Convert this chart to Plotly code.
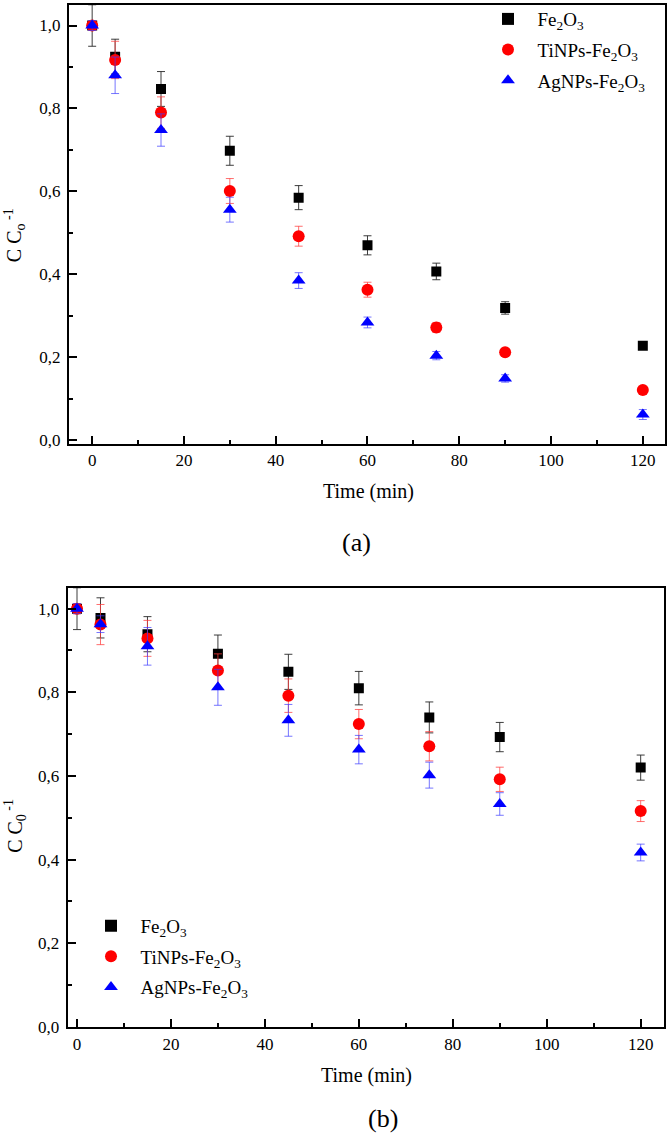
import plotly.graph_objects as go

# ---------------- data ----------------
time_a = [0, 5, 15, 30, 45, 60, 75, 90, 120]
fe2o3_a = [1.0, 0.925, 0.847, 0.698, 0.585, 0.470, 0.407, 0.319, 0.228]
fe2o3_a_err = [0.05, 0.042, 0.042, 0.035, 0.029, 0.023, 0.02, 0.015, 0.006]
ti_a = [1.0, 0.917, 0.790, 0.601, 0.492, 0.363, 0.272, 0.212, 0.121]
ti_a_err = [0.012, 0.045, 0.038, 0.03, 0.024, 0.018, 0.012, 0.008, 0.005]
ag_a = [1.0, 0.880, 0.748, 0.556, 0.385, 0.284, 0.204, 0.149, 0.062]
ag_a_err = [0.012, 0.044, 0.039, 0.03, 0.019, 0.013, 0.01, 0.009, 0.012]

time_b = [0, 5, 15, 30, 45, 60, 75, 90, 120]
fe2o3_b = [1.0, 0.978, 0.939, 0.892, 0.849, 0.810, 0.740, 0.693, 0.620]
fe2o3_b_err = [0.05, 0.048, 0.042, 0.045, 0.042, 0.04, 0.037, 0.035, 0.03]
ti_b = [1.0, 0.962, 0.929, 0.852, 0.792, 0.724, 0.671, 0.592, 0.516]
ti_b_err = [0.012, 0.048, 0.043, 0.04, 0.04, 0.035, 0.035, 0.029, 0.025]
ag_b = [1.0, 0.963, 0.910, 0.812, 0.733, 0.663, 0.602, 0.533, 0.417]
ag_b_err = [0.012, 0.02, 0.045, 0.043, 0.038, 0.034, 0.031, 0.027, 0.02]

series_names = ["Fe<sub>2</sub>O<sub>3</sub>",
                "TiNPs-Fe<sub>2</sub>O<sub>3</sub>",
                "AgNPs-Fe<sub>2</sub>O<sub>3</sub>"]

# ---------------- styling ----------------
W, H = 667, 1144
FONT = "Liberation Serif, Times New Roman, serif"
marker_cfg = [
    dict(symbol="square", size=10, color="#000000"),
    dict(symbol="circle", size=12, color="#ff0000"),
    dict(symbol="triangle-up", size=12, color="#0000ff"),
]
err_colors = ["rgba(40,40,40,0.9)", "rgba(255,60,60,0.75)", "rgba(60,60,255,0.7)"]
PAD = "\u00a0\u00a0"


def px_x(p):
    return p / W


def px_y(p):
    return 1 - p / H


fig = go.Figure()

panel_a = [(fe2o3_a, fe2o3_a_err), (ti_a, ti_a_err), (ag_a, ag_a_err)]
panel_b = [(fe2o3_b, fe2o3_b_err), (ti_b, ti_b_err), (ag_b, ag_b_err)]

for i, (vals, errs) in enumerate(panel_a):
    fig.add_trace(go.Scatter(
        x=time_a, y=vals, mode="markers", name=PAD + series_names[i],
        legendgroup="a%d" % i,
        marker=dict(**marker_cfg[i], line=dict(width=0)),
        error_y=dict(type="data", array=errs, color=err_colors[i], thickness=1, width=4),
        xaxis="x", yaxis="y", legend="legend",
    ))

for i, (vals, errs) in enumerate(panel_b):
    fig.add_trace(go.Scatter(
        x=time_b, y=vals, mode="markers", name=PAD + series_names[i],
        legendgroup="b%d" % i,
        marker=dict(**marker_cfg[i], line=dict(width=0)),
        error_y=dict(type="data", array=errs, color=err_colors[i], thickness=1, width=4),
        xaxis="x2", yaxis="y2", legend="legend2",
    ))

axis_common = dict(
    showgrid=False, zeroline=False, showline=True, linecolor="#000000", linewidth=2,
    mirror=True, ticks="inside", ticklen=8, tickwidth=1.5, tickcolor="#000000",
    tickfont=dict(family=FONT, size=17, color="#000000"),
)

fig.update_layout(
    width=W, height=H,
    margin=dict(l=0, r=0, t=0, b=0),
    paper_bgcolor="white", plot_bgcolor="white",
    separators=",.",
    font=dict(family=FONT, color="#000000"),
    xaxis=dict(**axis_common, domain=[px_x(69), px_x(665.3)], range=[-5.05, 124.9],
               anchor="y", dtick=20, tick0=0,
               minor=dict(ticks="inside", ticklen=4, dtick=10, tickwidth=1.5, tickcolor="#000")),
    yaxis=dict(**axis_common, domain=[px_y(445), px_y(0.8)], range=[-0.008, 1.05],
               anchor="x", dtick=0.2, tick0=0, tickformat=".1f", ticklabelstandoff=3,
               minor=dict(ticks="inside", ticklen=4, dtick=0.1, tickwidth=1.5, tickcolor="#000")),
    xaxis2=dict(**axis_common, domain=[px_x(67.7), px_x(663.7)], range=[-1.98, 124.9],
                anchor="y2", dtick=20, tick0=0,
                minor=dict(ticks="inside", ticklen=4, dtick=10, tickwidth=1.5, tickcolor="#000")),
    yaxis2=dict(**axis_common, domain=[px_y(1036), px_y(591)], range=[-0.001, 1.05],
                anchor="x2", dtick=0.2, tick0=0, tickformat=".1f", ticklabelstandoff=3,
                minor=dict(ticks="inside", ticklen=4, dtick=0.1, tickwidth=1.5, tickcolor="#000")),
    legend=dict(x=px_x(488), y=px_y(-4), xanchor="left", yanchor="top",
                bgcolor="rgba(0,0,0,0)", font=dict(family=FONT, size=19),
                itemsizing="constant", tracegroupgap=3),
    legend2=dict(x=px_x(91), y=px_y(914), xanchor="left", yanchor="top",
                 bgcolor="rgba(0,0,0,0)", font=dict(family=FONT, size=19),
                 itemsizing="constant", tracegroupgap=3),
    showlegend=True,
)

ann_font = dict(family=FONT, color="#000000")
annotations = [
    dict(text="Time (min)", x=px_x(368), y=px_y(494), font=dict(**ann_font, size=20)),
    dict(text="(a)", x=px_x(357), y=px_y(545), font=dict(**ann_font, size=26)),
    dict(text="C C<sub>o</sub><sup> -1</sup>", x=px_x(15), y=px_y(234), textangle=-90,
         font=dict(**ann_font, size=20)),
    dict(text="Time (min)", x=px_x(366), y=px_y(1085), font=dict(**ann_font, size=20)),
    dict(text="(b)", x=px_x(383), y=px_y(1128), font=dict(**ann_font, size=26)),
    dict(text="C C<sub>0</sub><sup> -1</sup>", x=px_x(15), y=px_y(832), textangle=-90,
         font=dict(**ann_font, size=20)),
]
for a in annotations:
    fig.add_annotation(xref="paper", yref="paper", showarrow=False,
                       xanchor="center", yanchor="middle", **a)

fig.write_html("out.html", config={"displayModeBar": False},
               post_script="document.body.style.margin='0px';document.body.style.overflow='hidden';")
